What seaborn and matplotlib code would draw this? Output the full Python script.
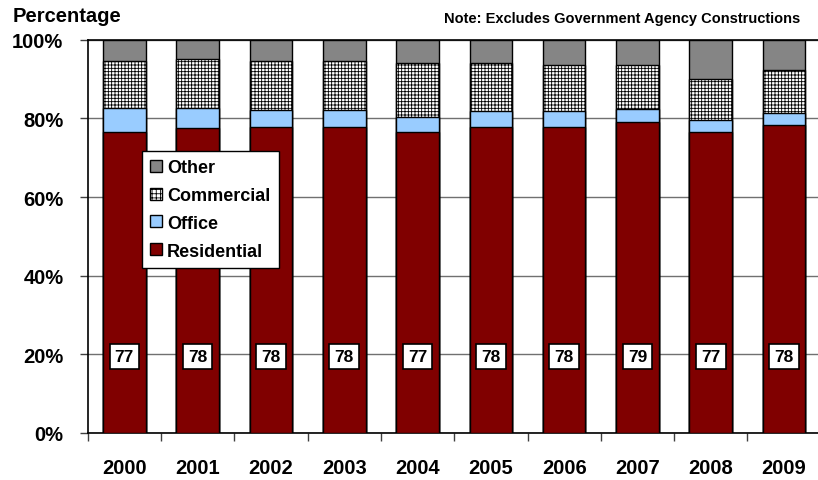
import matplotlib
matplotlib.use("Agg")
import matplotlib.pyplot as plt
import seaborn as sns
import pandas as pd
import numpy as np
from matplotlib.patches import Patch

years = ["2000", "2001", "2002", "2003", "2004", "2005", "2006", "2007", "2008", "2009"]
residential = [76.6, 77.5, 77.8, 77.8, 76.6, 77.8, 77.8, 79.2, 76.6, 78.3]
office = [6.0, 5.1, 4.4, 4.4, 3.8, 4.1, 4.1, 3.2, 3.1, 3.1]
commercial = [12.0, 12.4, 12.4, 12.4, 13.7, 12.2, 11.7, 11.2, 10.3, 10.9]
other = [5.4, 5.0, 5.4, 5.4, 5.9, 5.9, 6.4, 6.4, 10.0, 7.7]
res_labels = [77, 78, 78, 78, 77, 78, 78, 79, 77, 78]
y_ticks = [0, 20, 40, 60, 80, 100]

sns.set_theme(style="white")
plt.rcParams["font.family"] = ["Liberation Sans", "DejaVu Sans"]
plt.rcParams["font.weight"] = "bold"
plt.rcParams["text.color"] = "black"
plt.rcParams["xtick.color"] = "black"
plt.rcParams["ytick.color"] = "black"
plt.rcParams["hatch.linewidth"] = 0.6
plt.rcParams["hatch.color"] = "black"

df = pd.DataFrame({"year": years, "Residential": residential, "Office": office,
                   "Commercial": commercial, "Other": other})
df["c_res"] = df["Residential"]
df["c_off"] = df["c_res"] + df["Office"]
df["c_com"] = df["c_off"] + df["Commercial"]
df["c_oth"] = df["c_com"] + df["Other"]

fig = plt.figure(figsize=(8.18, 4.81), dpi=100)
ax = fig.add_axes([87.7 / 818, 47 / 481, 733 / 818, 393.3 / 481])

colors = {"Other": "#858585", "Commercial": "white", "Office": "#99CCFF", "Residential": "#800000"}
layers = [("c_oth", "Other", None), ("c_com", "Commercial", "+++++"),
          ("c_off", "Office", None), ("c_res", "Residential", None)]
for col, name, hatch in layers:
    sns.barplot(data=df, x="year", y=col, ax=ax, color=colors[name], width=0.58,
                edgecolor="black", linewidth=1.0, saturation=1, hatch=hatch, zorder=3)

for i, lab in enumerate(res_labels):
    ax.text(i, 19.5, str(lab), ha="center", va="center", fontsize=12.5, fontweight="bold",
            color="black", zorder=5,
            bbox=dict(boxstyle="square,pad=0.3", fc="white", ec="black", lw=1.2))

ax.set_xlim(-0.5, 9.5)
ax.set_ylim(0, 100)
ax.set_yticks(y_ticks)
ax.set_yticklabels([f"{t}%" for t in y_ticks], fontsize=14.5, fontweight="bold", color="black")
ax.set_xticks(range(len(years)))
ax.set_xticklabels(years, fontsize=14.5, fontweight="bold", color="black")
ax.set_xticks(np.arange(-0.5, 9.6, 1), minor=True)
ax.tick_params(axis="x", which="major", length=0, pad=18)
ax.tick_params(axis="x", which="minor", length=5.5, width=1, color="#404040", direction="out", bottom=True)
ax.tick_params(axis="y", which="major", length=5.5, width=1, color="#404040", direction="out", left=True, pad=12)
ax.set_xlabel("")
ax.set_ylabel("")
ax.yaxis.grid(True, color="#707070", linewidth=1.0, zorder=0)
ax.set_axisbelow(True)
for s in ["left", "bottom", "top"]:
    ax.spines[s].set_visible(True)
    ax.spines[s].set_color("black")
    ax.spines[s].set_linewidth(1.2)
ax.spines["right"].set_visible(False)

handles = [Patch(facecolor=colors["Other"], edgecolor="black", label="Other"),
           Patch(facecolor="white", edgecolor="black", hatch="++++", label="Commercial"),
           Patch(facecolor=colors["Office"], edgecolor="black", label="Office"),
           Patch(facecolor=colors["Residential"], edgecolor="black", label="Residential")]
leg = ax.legend(handles=handles, loc="upper left", bbox_to_anchor=(0.074, 0.717),
                borderaxespad=0, frameon=True, fancybox=False, edgecolor="black",
                prop={"weight": "bold", "size": 13}, handlelength=0.65,
                handleheight=0.65, handletextpad=0.3, labelspacing=0.6, borderpad=0.45,
                framealpha=1)
leg.get_frame().set_linewidth(1.0)
for t in leg.get_texts():
    t.set_color("black")
leg.set_zorder(6)

fig.text(13 / 818, 1 - 16 / 481, "Percentage", ha="left", va="center", fontsize=14.5,
         fontweight="bold", color="black")
fig.text(800 / 818, 1 - 19 / 481, "Note: Excludes Government Agency Constructions",
         ha="right", va="center", fontsize=10.5, fontweight="bold", color="black")

fig.savefig("out.png", dpi=100)
